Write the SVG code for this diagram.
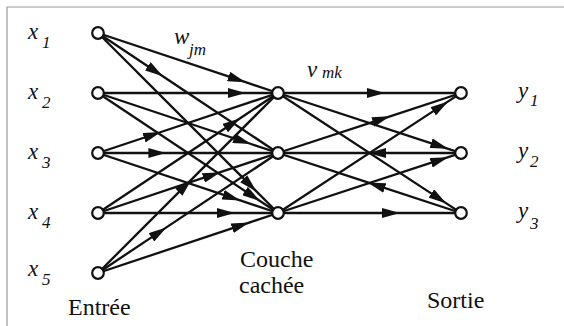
<svg xmlns="http://www.w3.org/2000/svg" width="564" height="326" viewBox="0 0 564 326">
<style>
.c{fill:none;stroke:#111;stroke-width:2.3;marker-mid:url(#a)}
.r{marker-mid:url(#ar)}
.n{fill:#fff;stroke:#111;stroke-width:2.2}
.t{font-family:"Liberation Serif","Times New Roman",serif;font-size:24px;fill:#111}
.v{font-family:"Liberation Serif","Times New Roman",serif;font-style:italic;font-size:23px;fill:#111}
.s{font-size:17px}
</style>
<defs>
<marker id="a" markerUnits="userSpaceOnUse" viewBox="0 0 18 10" refX="18" refY="5" markerWidth="18" markerHeight="10" orient="auto"><path d="M0,0 L18,5 L0,10 Z" fill="#111"/></marker>
<marker id="ar" markerUnits="userSpaceOnUse" viewBox="0 0 18 10" refX="0" refY="5" markerWidth="18" markerHeight="10" orient="auto"><path d="M18,0 L0,5 L18,10 Z" fill="#111"/></marker>
</defs>
<path d="M7,326 V7 H564" fill="none" stroke="#999" stroke-width="1.2"/>
<g id="connectors">
<path class="c" d="M98,33 L245.6,82.2 L278,93"/>
<path class="c" d="M98,33 L162.8,76.2 L278,153"/>
<path class="c" d="M98,33 L256.4,191.4 L278,213"/>
<path class="c" d="M98,93 L245.6,93 L278,93"/>
<path class="c" d="M98,93 L251,144 L278,153"/>
<path class="c" d="M98,93 L260,201 L278,213"/>
<path class="c" d="M98,153 L161,132 L278,93"/>
<path class="c" d="M98,153 L166.4,153 L278,153"/>
<path class="c" d="M98,153 L240.2,200.4 L278,213"/>
<path class="c" d="M98,213 L240.2,118.2 L278,93"/>
<path class="c" d="M98,213 L220.4,172.2 L278,153"/>
<path class="c" d="M98,213 L234.8,213 L278,213"/>
<path class="c" d="M98,273 L191.6,179.4 L278,93"/>
<path class="c" d="M98,273 L166.4,227.4 L278,153"/>
<path class="c" d="M98,273 L249.2,222.6 L278,213"/>
<path class="c" d="M278,93 L385,93 L461,93"/>
<path class="c" d="M278,153 L390,116.3 L461,93"/>
<path class="c" d="M278,213 L448.2,101.4 L461,93"/>
<path class="c" d="M278,93 L448.2,148.8 L461,153"/>
<path class="c r" d="M278,153 L368,153 L461,153"/>
<path class="c" d="M278,213 L448.2,157.2 L461,153"/>
<path class="c" d="M278,93 L446.4,203.4 L461,213"/>
<path class="c r" d="M278,153 L367.7,182.4 L461,213"/>
<path class="c" d="M278,213 L400,213 L461,213"/>
</g>
<g id="x1"><circle class="n" cx="98" cy="33" r="5.8"/><text class="v" x="28" y="39">x<tspan class="s" x="42" y="48">1</tspan></text></g>
<g id="x2"><circle class="n" cx="98" cy="93" r="5.8"/><text class="v" x="28" y="99">x<tspan class="s" x="42" y="108">2</tspan></text></g>
<g id="x3"><circle class="n" cx="98" cy="153" r="5.8"/><text class="v" x="28" y="159">x<tspan class="s" x="42" y="168">3</tspan></text></g>
<g id="x4"><circle class="n" cx="98" cy="213" r="5.8"/><text class="v" x="28" y="219">x<tspan class="s" x="42" y="228">4</tspan></text></g>
<g id="x5"><circle class="n" cx="98" cy="273" r="5.8"/><text class="v" x="28" y="276">x<tspan class="s" x="42" y="285">5</tspan></text></g>
<g id="h1"><circle class="n" cx="278" cy="93" r="5.8"/></g>
<g id="h2"><circle class="n" cx="278" cy="153" r="5.8"/></g>
<g id="h3"><circle class="n" cx="278" cy="213" r="5.8"/></g>
<g id="y1"><circle class="n" cx="461" cy="93" r="5.8"/><text class="v" x="518" y="98">y<tspan class="s" x="530" y="106">1</tspan></text></g>
<g id="y2"><circle class="n" cx="461" cy="153" r="5.8"/><text class="v" x="518" y="158">y<tspan class="s" x="530" y="167">2</tspan></text></g>
<g id="y3"><circle class="n" cx="461" cy="213" r="5.8"/><text class="v" x="518" y="218">y<tspan class="s" x="530" y="229">3</tspan></text></g>
<text class="v" x="174" y="44">w<tspan class="s" x="189" y="55">jm</tspan></text>
<text class="v" x="307" y="77">v<tspan class="s" x="322" y="78">mk</tspan></text>
<text class="t" x="68" y="315">Entrée</text>
<text class="t" x="240" y="267">Couche</text>
<text class="t" x="239" y="293">cachée</text>
<text class="t" x="427" y="308">Sortie</text>
</svg>
